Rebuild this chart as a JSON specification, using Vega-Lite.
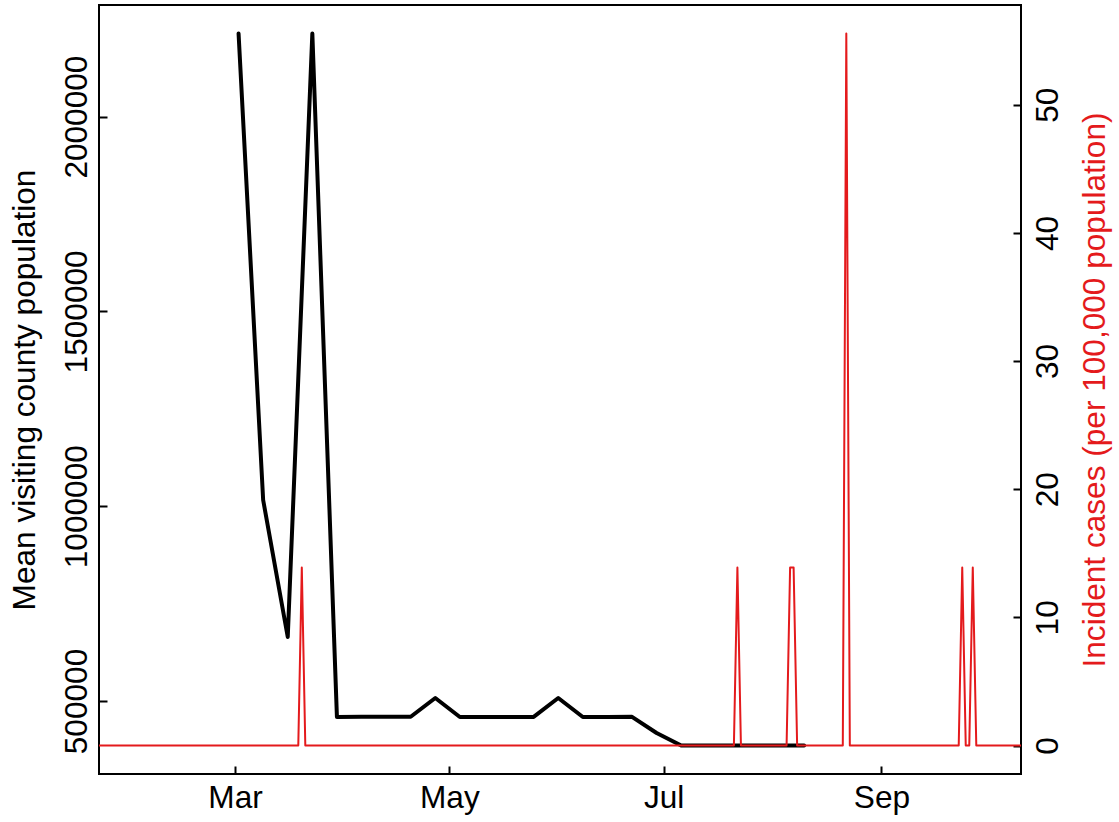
{
  "$schema": "https://vega.github.io/schema/vega-lite/v6.json",
  "width": 922,
  "height": 769,
  "autosize": {"type": "none"},
  "padding": {"left": 99, "top": 5, "right": 98, "bottom": 48},
  "background": "white",
  "config": {
    "view": {"stroke": "black", "strokeWidth": 2},
    "font": "Liberation Sans",
    "axis": {
      "grid": false,
      "domain": false,
      "tickColor": "black",
      "tickWidth": 2,
      "tickSize": -8,
      "labelFontSize": 31.6,
      "labelColor": "black",
      "labelFont": "Liberation Sans",
      "labelFlush": false,
      "labelOverlap": false,
      "titleFont": "Liberation Sans",
      "titleFontSize": 31.6,
      "titleFontWeight": "normal",
      "titleColor": "black",
      "zindex": 1
    }
  },
  "datasets": {
    "mobility": [
      {"date": "2020-03-02", "visitors": 2213300},
      {"date": "2020-03-09", "visitors": 1015900},
      {"date": "2020-03-16", "visitors": 664300},
      {"date": "2020-03-23", "visitors": 2213300},
      {"date": "2020-03-30", "visitors": 458900},
      {"date": "2020-04-06", "visitors": 459500},
      {"date": "2020-04-13", "visitors": 459500},
      {"date": "2020-04-20", "visitors": 459500},
      {"date": "2020-04-27", "visitors": 507700},
      {"date": "2020-05-04", "visitors": 458900},
      {"date": "2020-05-11", "visitors": 459000},
      {"date": "2020-05-18", "visitors": 459200},
      {"date": "2020-05-25", "visitors": 459200},
      {"date": "2020-06-01", "visitors": 507700},
      {"date": "2020-06-08", "visitors": 458900},
      {"date": "2020-06-15", "visitors": 459100},
      {"date": "2020-06-22", "visitors": 459300},
      {"date": "2020-06-29", "visitors": 417900},
      {"date": "2020-07-06", "visitors": 385800},
      {"date": "2020-07-13", "visitors": 385800},
      {"date": "2020-07-20", "visitors": 385800},
      {"date": "2020-07-27", "visitors": 385800},
      {"date": "2020-08-03", "visitors": 385800},
      {"date": "2020-08-10", "visitors": 385800}
    ],
    "cases": [
      {"date": "2020-01-22", "incidence": 0},
      {"date": "2020-03-19", "incidence": 0},
      {"date": "2020-03-20", "incidence": 13.89},
      {"date": "2020-03-21", "incidence": 0},
      {"date": "2020-07-21", "incidence": 0},
      {"date": "2020-07-22", "incidence": 13.89},
      {"date": "2020-07-23", "incidence": 0},
      {"date": "2020-08-05", "incidence": 0},
      {"date": "2020-08-06", "incidence": 13.89},
      {"date": "2020-08-07", "incidence": 13.89},
      {"date": "2020-08-08", "incidence": 0},
      {"date": "2020-08-21", "incidence": 0},
      {"date": "2020-08-22", "incidence": 55.56},
      {"date": "2020-08-23", "incidence": 0},
      {"date": "2020-09-23", "incidence": 0},
      {"date": "2020-09-24", "incidence": 13.89},
      {"date": "2020-09-25", "incidence": 0},
      {"date": "2020-09-26", "incidence": 0},
      {"date": "2020-09-27", "incidence": 13.89},
      {"date": "2020-09-28", "incidence": 0},
      {"date": "2020-10-12", "incidence": 0}
    ],
    "label": [
      {"text": "Grant County, OR, fips: 41023, pop: 7199"}
    ]
  },
  "encoding": {
    "x": {
      "field": "date",
      "type": "temporal",
      "scale": {
        "type": "utc",
        "domain": [
          {"year": 2020, "month": 1, "date": 22, "hours": 6, "minutes": 31, "utc": true},
          {"year": 2020, "month": 10, "date": 10, "hours": 17, "minutes": 28, "utc": true}
        ]
      },
      "axis": {
        "title": null,
        "values": [
          {"year": 2020, "month": 3, "date": 1, "utc": true},
          {"year": 2020, "month": 5, "date": 1, "utc": true},
          {"year": 2020, "month": 7, "date": 1, "utc": true},
          {"year": 2020, "month": 9, "date": 1, "utc": true}
        ],
        "format": "%b",
        "formatType": "utc",
        "labelExpr": "utcFormat(datum.value, '%b')",
        "labelAngle": 0,
        "labelPadding": 16.7
      }
    }
  },
  "layer": [
    {
      "layer": [
        {
          "data": {"name": "mobility"},
          "mark": {"type": "line", "color": "black", "strokeWidth": 4, "strokeJoin": "round", "strokeCap": "round", "clip": true},
          "encoding": {
            "y": {
              "field": "visitors",
              "type": "quantitative",
              "scale": {"domain": [312600, 2286500], "nice": false, "zero": false},
              "axis": {
                "values": [500000, 1000000, 1500000, 2000000],
                "format": "d",
                "labelAngle": -90,
                "labelAlign": "center",
                "labelBaseline": "bottom",
                "labelPadding": 13.7,
                "title": "Mean visiting county population",
                "titleAngle": -90,
                "titleAlign": "center",
                "titleBaseline": "bottom",
                "titlePadding": 20
              }
            }
          }
        },
        {
          "data": {"name": "label"},
          "mark": {"type": "text", "align": "right", "baseline": "alphabetic", "fontSize": 31.6, "font": "Liberation Sans", "color": "black"},
          "encoding": {
            "x": {
              "datum": {"year": 2020, "month": 10, "date": 5, "hours": 17, "minutes": 45, "utc": true},
              "type": "temporal",
              "axis": {
                "title": null,
                "values": [
                  {"year": 2020, "month": 3, "date": 1, "utc": true},
                  {"year": 2020, "month": 5, "date": 1, "utc": true},
                  {"year": 2020, "month": 7, "date": 1, "utc": true},
                  {"year": 2020, "month": 9, "date": 1, "utc": true}
                ],
                "format": "%b",
                "formatType": "utc",
                "labelExpr": "utcFormat(datum.value, '%b')",
                "labelAngle": 0,
                "labelPadding": 16.7
              }
            },
            "y": {"datum": 2155600, "type": "quantitative"},
            "text": {"field": "text"}
          }
        }
      ]
    },
    {
      "data": {"name": "cases"},
      "mark": {"type": "line", "color": "#e41a1c", "strokeWidth": 2, "strokeJoin": "round", "strokeCap": "round", "clip": true},
      "encoding": {
        "y": {
          "field": "incidence",
          "type": "quantitative",
          "scale": {"domain": [-2.222, 57.78], "nice": false, "zero": false},
          "axis": {
            "orient": "right",
            "values": [0, 10, 20, 30, 40, 50],
            "labelAngle": -90,
            "labelAlign": "center",
            "labelBaseline": "top",
            "labelPadding": 19.7,
            "title": "Incident cases (per 100,000 population)",
            "titleColor": "#e41a1c",
            "titleAngle": -90,
            "titleAlign": "center",
            "titleBaseline": "top",
            "titlePadding": 14.7
          }
        }
      }
    }
  ],
  "resolve": {"scale": {"y": "independent"}}
}
